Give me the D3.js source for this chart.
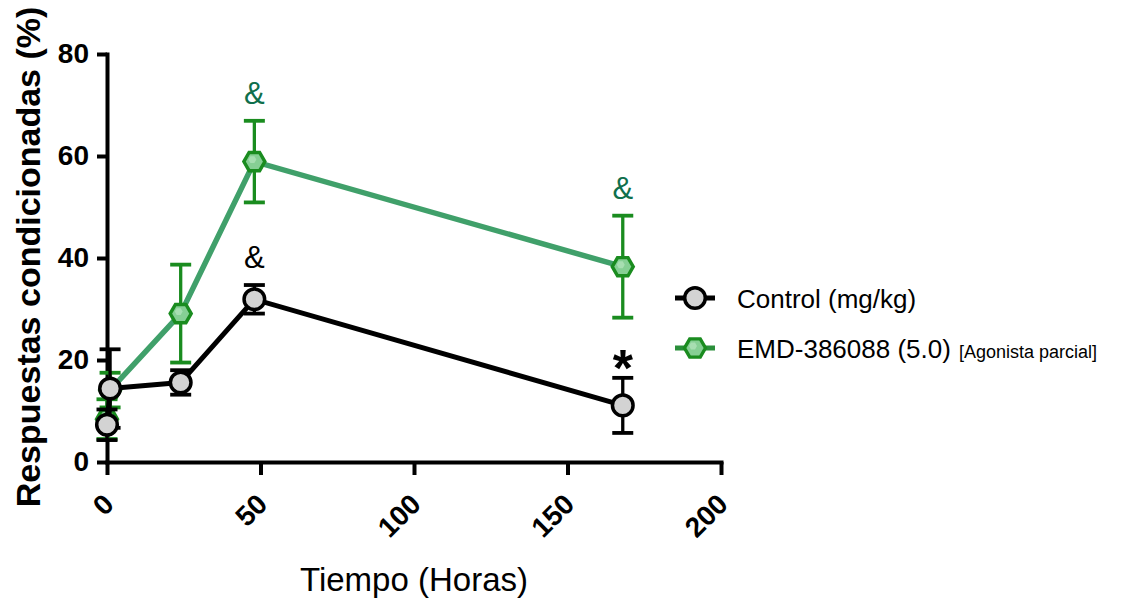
<!DOCTYPE html>
<html>
<head>
<meta charset="utf-8">
<script src="https://cdn.jsdelivr.net/npm/d3@7"></script>
<style>
  html, body { margin: 0; padding: 0; background: #ffffff; }
  svg { display: block; font-family: Arial, "Liberation Sans", sans-serif; }
</style>
</head>
<body>
<svg id="chart" width="1125" height="600"></svg>
<script>
// Sampling times (hours)
const timesHours = [0, 1, 24, 48, 168];

// Control group: mean and SEM (%)
const controlMean = [7.3, 14.4, 15.6, 31.9, 11.1];
const controlSem  = [3.0, 7.7, 2.4, 2.8, 5.4];

// EMD-386088 (5.0) group: mean and SEM (%)
const emdMean = [8.4, 14.1, 29.1, 58.9, 38.3];
const emdSem  = [3.9, 3.4, 9.6, 8.0, 10.0];

// Axis ticks
const xTicks = [0, 50, 100, 150, 200];
const yTicks = [0, 20, 40, 60, 80];

// Significance marks: series, time point, symbol
const marks = [
  { series: "emd", t: 48, text: "&" },
  { series: "emd", t: 168, text: "&" },
  { series: "control", t: 48, text: "&" },
  { series: "control", t: 168, text: "*" }
];

const legendLabels = ["Control (mg/kg)", "EMD-386088 (5.0)"];
const legendNote = "[Agonista parcial]";

const svg = d3.select("#chart");

const x = d3.scaleLinear().domain([0, 200]).range([107, 721]);
const y = d3.scaleLinear().domain([0, 80]).range([462, 54]);

const style = {
  control: { line: "#000000", bar: "#000000", stroke: "#000000", fill: "#d3d3d3", mark: "#000000" },
  emd:     { line: "#40a06a", bar: "#1a8c1f", stroke: "#1a8c1f", fill: "#86cf94", mark: "#0f6f4c" }
};

const series = {
  control: timesHours.map((t, i) => ({ t, m: controlMean[i], s: controlSem[i] })),
  emd: timesHours.map((t, i) => ({ t, m: emdMean[i], s: emdSem[i] }))
};

// ---- Axes ----
const yAxis = svg.append("g")
  .attr("transform", `translate(${x(0)},0)`)
  .call(d3.axisLeft(y).tickValues(yTicks).tickSize(10).tickSizeOuter(0).tickPadding(8));

const xAxis = svg.append("g")
  .attr("transform", `translate(0,${y(0)})`)
  .call(d3.axisBottom(x).tickValues(xTicks).tickSize(13).tickSizeOuter(0));

[yAxis, xAxis].forEach(g => {
  g.select(".domain").attr("stroke", "#000").attr("stroke-width", 4).attr("stroke-linecap", "square");
  g.selectAll(".tick line").attr("stroke", "#000").attr("stroke-width", 4);
  g.selectAll(".tick text")
    .attr("fill", "#000")
    .attr("font-size", 28)
    .attr("font-weight", "bold")
    .attr("font-family", "Arial, 'Liberation Sans', sans-serif");
});

xAxis.selectAll(".tick text")
  .attr("text-anchor", "end")
  .attr("x", 0).attr("y", 0).attr("dy", 0)
  .attr("transform", "translate(8,44) rotate(-45)");

// Axis titles
svg.append("text")
  .attr("transform", "translate(40,257) rotate(-90)")
  .attr("text-anchor", "middle")
  .attr("font-size", 34)
  .attr("font-weight", "bold")
  .attr("fill", "#000")
  .text("Respuestas condicionadas (%)");

svg.append("text")
  .attr("x", 414).attr("y", 591)
  .attr("text-anchor", "middle")
  .attr("font-size", 33)
  .attr("fill", "#000")
  .text("Tiempo (Horas)");

// ---- Marker shapes ----
const hexPath = r => d3.line()(d3.range(6).map(k => {
  const a = k * Math.PI / 3;
  return [r * Math.cos(a), r * Math.sin(a)];
})) + "Z";

function drawMarker(g, key) {
  const st = style[key];
  if (key === "control") {
    g.append("circle").attr("r", 10.3)
      .attr("fill", st.fill).attr("stroke", st.stroke).attr("stroke-width", 3.5);
  } else {
    g.append("path").attr("d", hexPath(10.5))
      .attr("fill", st.fill).attr("stroke", st.stroke).attr("stroke-width", 3.4);
    g.append("path").attr("d", hexPath(4))
      .attr("transform", "translate(-2,-2)")
      .attr("fill", "#b5e4bd").attr("opacity", 0.7);
  }
}

// ---- Series ----
const lineGen = d3.line().x(d => x(d.t)).y(d => y(d.m));

function drawSeries(key, lineWidth) {
  const st = style[key];
  const data = series[key];
  const g = svg.append("g");

  g.append("path").datum(data)
    .attr("d", lineGen)
    .attr("fill", "none")
    .attr("stroke", st.line)
    .attr("stroke-width", lineWidth)
    .attr("stroke-linejoin", "round");

  const eb = g.selectAll(".eb").data(data).join("g");
  eb.append("line")
    .attr("x1", d => x(d.t)).attr("x2", d => x(d.t))
    .attr("y1", d => y(d.m + d.s)).attr("y2", d => y(d.m - d.s))
    .attr("stroke", st.bar).attr("stroke-width", 3.3);
  [1, -1].forEach(sign => {
    eb.append("line")
      .attr("x1", d => x(d.t) - 10.5).attr("x2", d => x(d.t) + 10.5)
      .attr("y1", d => y(d.m + sign * d.s)).attr("y2", d => y(d.m + sign * d.s))
      .attr("stroke", st.bar).attr("stroke-width", 3.8);
  });

  g.selectAll(".mk").data(data).join("g")
    .attr("transform", d => `translate(${x(d.t)},${y(d.m)})`)
    .each(function () { drawMarker(d3.select(this), key); });
}

drawSeries("emd", 5.5);
drawSeries("control", 5);

// ---- Significance marks ----
svg.selectAll(".sig").data(marks).join("text")
  .attr("x", d => x(d.t))
  .attr("y", d => {
    const p = series[d.series].find(p => p.t === d.t);
    return y(p.m + p.s) - (d.text === "*" ? -8 : 17);
  })
  .attr("text-anchor", "middle")
  .attr("font-size", d => d.text === "*" ? 52 : 31)
  .attr("font-weight", d => d.text === "*" ? "bold" : "normal")
  .attr("fill", d => style[d.series].mark)
  .text(d => d.text);

// ---- Legend ----
const legend = svg.append("g");
["control", "emd"].forEach((key, i) => {
  const row = legend.append("g").attr("transform", `translate(0,${298 + i * 50})`);
  row.append("line").attr("x1", 675).attr("x2", 715).attr("y1", 0).attr("y2", 0)
    .attr("stroke", key === "control" ? "#000" : "#2a8f3a").attr("stroke-width", 5);
  const m = row.append("g").attr("transform", "translate(695,0)");
  drawMarker(m, key);
  const t = row.append("text").attr("x", 737).attr("y", 9.5)
    .attr("font-size", 26).attr("fill", "#000")
    .text(legendLabels[i]);
  if (key === "emd") {
    t.append("tspan").attr("font-size", 18).attr("dx", 8).text(legendNote);
  }
});
</script>
</body>
</html>
